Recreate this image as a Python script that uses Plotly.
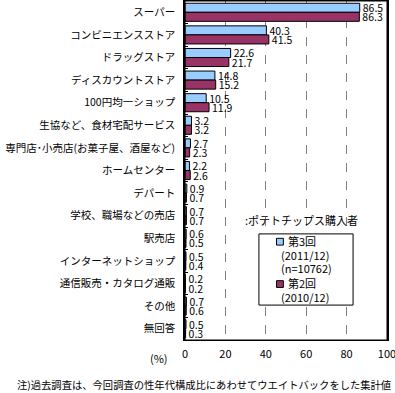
import plotly.graph_objects as go

categories = [
    "スーパー", "コンビニエンスストア", "ドラッグストア", "ディスカウントストア",
    "100円均一ショップ", "生協など、食材宅配サービス", "専門店･小売店(お菓子屋、酒屋など)",
    "ホームセンター", "デパート", "学校、職場などの売店", "駅売店",
    "インターネットショップ", "通信販売・カタログ通販", "その他", "無回答",
]
third = [86.5, 40.3, 22.6, 14.8, 10.5, 3.2, 2.7, 2.2, 0.9, 0.7, 0.6, 0.5, 0.2, 0.7, 0.5]
second = [86.3, 41.5, 21.7, 15.2, 11.9, 3.2, 2.3, 2.6, 0.7, 0.7, 0.5, 0.4, 0.2, 0.6, 0.3]
series_names = ["第3回", "第2回"]
series_sub = [["(2011/12)", "(n=10762)"], ["(2010/12)"]]
colors = ["#99CCFF", "#993366"]
x_ticks = [0, 20, 40, 60, 80, 100]

FONT = "Noto Sans CJK JP"

fig = go.Figure()
for vals, name, color in [(third, series_names[0], colors[0]), (second, series_names[1], colors[1])]:
    fig.add_trace(go.Bar(
        y=categories, x=vals, orientation="h", name=name,
        marker=dict(color=color, line=dict(color="black", width=1)),
        text=[f"{v:.1f}" for v in vals], textposition="outside",
        textfont=dict(family=FONT, size=10.5, color="black"),
        constraintext="none", cliponaxis=False, showlegend=False,
    ))

# Plot frame + manual legend (box, swatches, labels)
shapes = [
    dict(type="rect", xref="paper", yref="paper", x0=0, x1=1, y0=0, y1=1,
         line=dict(color="black", width=1), layer="above"),
    dict(type="rect", xref="paper", yref="paper", x0=0.366, x1=0.832, y0=0.103, y1=0.313,
         line=dict(color="black", width=1), fillcolor="white", layer="above"),
    dict(type="rect", xref="paper", yref="paper", x0=0.453, x1=0.487, y0=0.280, y1=0.300,
         line=dict(color="black", width=1), fillcolor=colors[0], layer="above"),
    dict(type="rect", xref="paper", yref="paper", x0=0.453, x1=0.487, y0=0.155, y1=0.175,
         line=dict(color="black", width=1), fillcolor=colors[1], layer="above"),
]

def ann(text, x, y, xanchor="left", size=11):
    return dict(text=text, x=x, y=y, xref="paper", yref="paper", showarrow=False,
                xanchor=xanchor, yanchor="middle", font=dict(size=size))

annotations = [
    ann(":ポテトチップス購入者", 0.579, 0.354, "center"),
    ann(series_names[0], 0.500, 0.292),
    ann(series_sub[0][0], 0.467, 0.251),
    ann(series_sub[0][1], 0.467, 0.212),
    ann(series_names[1], 0.500, 0.168),
    ann(series_sub[1][0], 0.467, 0.127),
    ann("(%)", -0.129, -0.053, "center"),
    ann("注)過去調査は、今回調査の性年代構成比にあわせてウエイトバックをした集計値",
        0.0965, -0.13, "center", 10.3),
]

fig.update_layout(
    width=395, height=393,
    margin=dict(l=185, r=8, t=1, b=53),
    paper_bgcolor="white", plot_bgcolor="white",
    barmode="group", bargap=0.2, bargroupgap=0,
    font=dict(family=FONT, size=11, color="black"),
    xaxis=dict(
        range=[0, 100], tickvals=x_ticks, showgrid=True, gridcolor="#808080",
        griddash="dash", gridwidth=1, zeroline=False, automargin=False,
        showline=True, linecolor="black", linewidth=1, mirror=True,
        ticks="", tickfont=dict(size=11), ticklabelstandoff=4,
        ticklabeloverflow="allow",
    ),
    yaxis=dict(
        autorange="reversed", showline=True, linecolor="black", linewidth=1.5,
        mirror=True, ticks="inside", tickson="boundaries", ticklen=3,
        tickcolor="black", tickfont=dict(size=10.5), ticklabelstandoff=6,
        showgrid=False, automargin=False,
    ),
    showlegend=False,
    shapes=shapes,
    annotations=annotations,
)

fig.write_html(
    "out.html",
    config={"displayModeBar": False},
    post_script="document.body.style.margin='0';document.body.style.overflow='hidden';"
                "document.documentElement.style.overflow='hidden';",
)
